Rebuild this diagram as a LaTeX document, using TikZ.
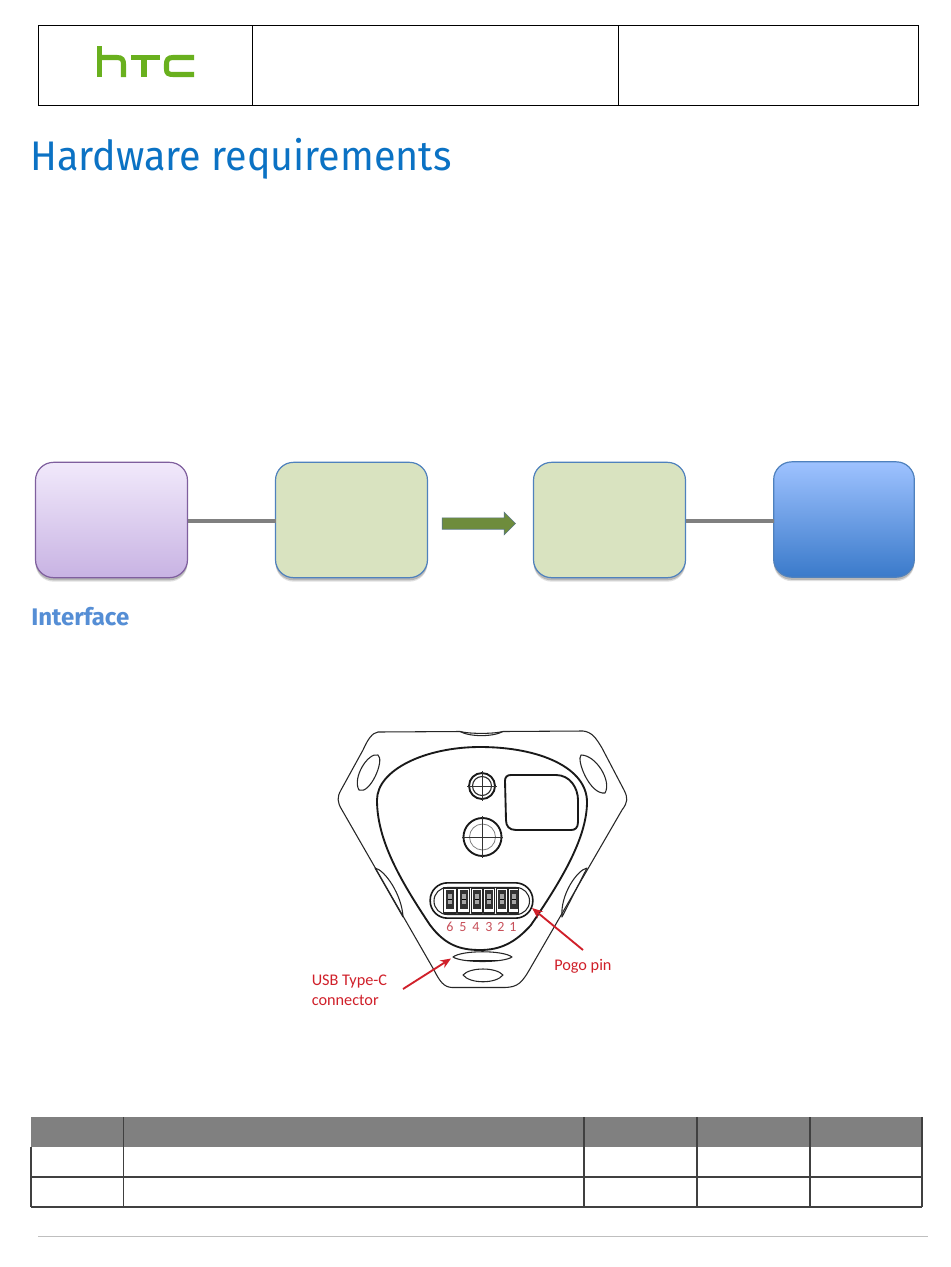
\documentclass[tikz,border=0pt]{standalone}
\usepackage{fontspec}
\setmainfont{Fira Sans}
\newfontfamily\notefont{Carlito}
\usetikzlibrary{shapes.arrows,shadows,arrows.meta,calc}
\definecolor{titleblue}{HTML}{0B72C4}
\definecolor{subblue}{HTML}{558ED5}
\definecolor{htcgreen}{HTML}{69B01E}
\definecolor{boxedge}{HTML}{4F81BD}
\definecolor{purpleedge}{HTML}{7F5F9E}
\definecolor{purpletop}{HTML}{F1E9FB}
\definecolor{purplebot}{HTML}{C8B3E3}
\definecolor{greenfill}{HTML}{D9E3C0}
\definecolor{bluetop}{HTML}{9EC2FF}
\definecolor{bluebot}{HTML}{3A7ACA}
\definecolor{arrowfill}{HTML}{6E8C3C}
\definecolor{arrowedge}{HTML}{5A7882}
\definecolor{notered}{HTML}{D0202A}
\definecolor{digitred}{HTML}{C8505A}
\tikzset{
  softshadow/.style={
    drop shadow={shadow xshift=0pt,shadow yshift=-3pt,opacity=.12,fill=black},
    drop shadow={shadow xshift=0pt,shadow yshift=-2pt,opacity=.18,fill=black}},
  flowbox/.style={rectangle,rounded corners=13.5pt,inner sep=0pt,outer sep=0pt,minimum height=86.5pt,line width=.9pt,softshadow},
  purplebox/.style={flowbox,minimum width=114pt,draw=purpleedge,top color=purpletop,bottom color=purplebot},
  greenbox/.style={flowbox,minimum width=114pt,draw=boxedge,fill=greenfill},
  bluebox/.style={flowbox,minimum width=105.5pt,draw=boxedge,top color=bluetop,bottom color=bluebot},
  linkbar/.style={draw=black!50,line width=3pt},
  framerule/.style={draw=black,line width=.7pt},
  tablerule/.style={draw=black!75,line width=.8pt},
  sketch/.style={draw=black!85,line width=.8pt,line join=round},
  sketchthick/.style={draw=black!90,line width=1.4pt,line join=round},
  fine/.style={draw=black!80,line width=.45pt},
  callout/.style={draw=notered,line width=1.4pt,-{Stealth[length=8pt,width=6.5pt]}},
  notetext/.style={font=\notefont\fontsize{12.2pt}{14pt}\selectfont,text=notered,inner sep=0pt,align=left,anchor=west},
  digit/.style={font=\notefont\fontsize{10.5pt}{12pt}\selectfont,text=digitred,inner sep=0pt},
  logostroke/.style={draw=htcgreen,line width=3.8pt,line cap=butt,line join=miter}
}
\begin{document}
\begin{tikzpicture}[x=0.75pt,y=-0.75pt]
\useasboundingbox[fill=white] (0,0) rectangle (950,1267);

% page header frame
\draw[framerule] (38,25) rectangle (918,105);
\draw[framerule] (252.5,25) -- (252.5,105);
\draw[framerule] (618,25) -- (618,105);

% htc logo
\draw[logostroke] (99.5,46) -- (99.5,77);
\draw[logostroke] (99.5,57.5) -- (117,57.5) .. controls (122,57.5) and (123.5,60) .. (123.5,64) -- (123.5,77);
\draw[logostroke] (131,57.5) -- (160,57.5);
\draw[logostroke] (144,57.5) -- (144,77);
\draw[logostroke] (194,57.5) -- (173,57.5) .. controls (168,57.5) and (166.5,60) .. (166.5,64) -- (166.5,69) .. controls (166.5,73) and (168,74.5) .. (173,74.5) -- (194,74.5);

% headings
\node[anchor=base west,inner sep=0pt,text=titleblue] (title) at (30,170.5)
  {\scalebox{0.955}[1]{\fontsize{31pt}{36pt}\selectfont Hardware requirements}};
\node[anchor=base west,inner sep=0pt,text=subblue] (iface) at (31,625)
  {\fontsize{18pt}{20pt}\selectfont\bfseries Interface};

% flow
\node[purplebox] (b1) at (111.5,520) {};
\node[greenbox] (b2) at (351.5,520) {};
\node[greenbox] (b3) at (609.5,520) {};
\node[bluebox] (b4) at (844,519.5) {};
\draw[linkbar] ($(b1.east)+(0,1)$) -- ($(b2.west)+(0,1)$);
\draw[linkbar] ($(b3.east)+(0,1)$) -- ($(b4.west)+(0,1.5)$);
\node[single arrow,single arrow head extend=4.2pt,single arrow tip angle=90,draw=arrowedge,line width=.5pt,
  fill=arrowfill,minimum height=55pt,inner sep=0pt,outer sep=0pt] (flow) at (476,523.5) {\rule{0pt}{8pt}};

% device outline
\draw[sketch] (378,732) -- (460,731.5) .. controls (470,737) and (493,737) .. (503,731.5) -- (583,731)
  .. controls (592,732) and (596,738) .. (602,748) -- (624,790)
  .. controls (628,798) and (628,802) .. (622,810) -- (531,967)
  .. controls (522,983) and (518,987) .. (505,987.5) -- (452,987.5)
  .. controls (444,987) and (440,982) .. (434,970) -- (342,810)
  .. controls (337,802) and (337,797) .. (341,790) -- (363,750)
  .. controls (368,739) and (372,733) .. (378,732) -- cycle;
\draw[sketch] (460,731.5) .. controls (470,734) and (493,734) .. (503,731.5);
% inner body
\draw[sketchthick] (377,800) .. controls (377,770) and (425,747) .. (480,747)
  .. controls (540,747) and (587,768) .. (587,802)
  .. controls (587,840) and (558,885) .. (531,925)
  .. controls (515,943) and (500,950) .. (480,950)
  .. controls (460,950) and (445,945) .. (430,925)
  .. controls (400,880) and (377,840) .. (377,800) -- cycle;
% lobes
\draw[sketch] (359,790) .. controls (352,778) and (368,752) .. (378,755) .. controls (385,760) and (370,795) .. (359,790) -- cycle;
\draw[sketch] (605,793) .. controls (612,781) and (596,755) .. (581,755) .. controls (576,760) and (590,795) .. (605,793) -- cycle;
\draw[sketch] (375,868) .. controls (385,870) and (402,895) .. (403,917) -- cycle;
\draw[sketch] (587,868) .. controls (577,870) and (560,895) .. (562,917) -- cycle;
% USB and lower slot
\draw[sketch] (453,957) .. controls (462,950) and (503,950) .. (512,957) .. controls (503,963) and (462,963) .. (453,957) -- cycle;
\draw[sketchthick] (467,960.5) -- (498,960.5);
\draw[sketch] (463,975) .. controls (470,967) and (496,967) .. (503,975) .. controls (496,984) and (470,984) .. (463,975) -- cycle;

% lenses
\draw[sketchthick] (482,786) circle [radius=13];
\draw[sketch] (482,786) circle [radius=9.5];
\draw[fine] (467,786) -- (497,786);
\draw[fine] (482,771) -- (482,801);
\draw[sketchthick] (482.5,837) circle [radius=19];
\draw[draw=black!50,line width=.6pt] (482.5,837) circle [radius=13];
\draw[fine] (462,837) -- (503,837);
\draw[fine] (482.5,816) -- (482.5,858);
% window
\draw[sketchthick] (505,781) .. controls (505,777) and (507,775) .. (511,775) -- (556,775)
  .. controls (570,775) and (578,788) .. (578,800) -- (578,822)
  .. controls (578,828) and (575,830) .. (571,830) -- (516,830)
  .. controls (509,830) and (506,826) .. (506,820) -- cycle;

% pogo socket
\node[rectangle,rounded corners=13pt,draw=black!90,line width=1.2pt,minimum width=77pt,minimum height=26.5pt,inner sep=0pt,outer sep=0pt] (pogo) at (481.5,900.5) {};
\draw[sketch,rounded corners=10pt] (434,887.5) rectangle (529.5,914.5);
\foreach \px/\pw in {450/13,463.5/12.5,477/11.5,489/11.5,502/11.5,513.5/10}{
  \draw[sketch,fill=white] (\px-\pw/2,888) rectangle (\px+\pw/2,913);
  \fill[black!80] (\px-4,890) rectangle (\px+4,909);
  \fill[black!35] (\px-2,894) rectangle (\px+2,904);
  \draw[draw=black,line width=.5pt] (\px-2,899) -- (\px+2,899);
}
\foreach \dx/\dt in {450/6,463/5,476/4,489/3,501/2,513/1}
  \node[digit] (d\dt) at (\dx,927) {\dt};

% callouts
\node[notetext] (pogolabel) at (554,966) {Pogo pin};
\node[notetext] (usblabel) at (311.5,990.5) {USB Type-C\\[1pt]connector};
\coordinate (pogotail) at (583,950);
\coordinate (usbtail) at (403,989);
\coordinate (usbtip) at (451,958.5);
\draw[callout] (pogotail) -- (532,908);
\draw[callout] (usbtail) -- (usbtip);

% table
\fill[black!50] (31,1117) rectangle (922,1147);
\draw[tablerule] (31,1177) -- (922,1177);
\draw[tablerule] (31,1207) -- (922,1207);
\draw[tablerule] (922,1117) -- (922,1207);
\draw[tablerule] (31,1147) -- (31,1207);
\foreach \vx in {123.5,584,697,810}
  \draw[tablerule] (\vx,1117) -- (\vx,1207);

% footer rule
\draw[draw=black!25,line width=.9pt] (38,1236.5) -- (928,1236.5);
\end{tikzpicture}
\end{document}
